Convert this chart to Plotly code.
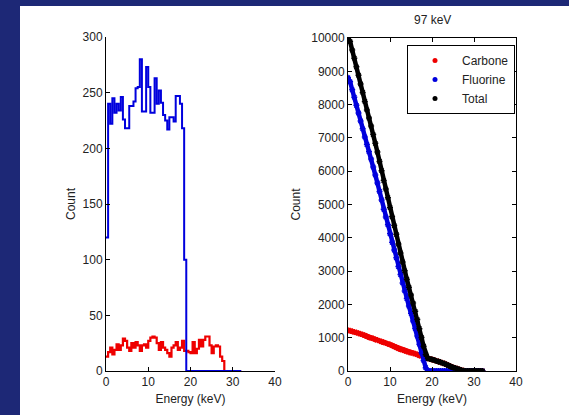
import numpy as np
import plotly.graph_objects as go

# ---- data ----
energy_keV = [0, 0.5, 1, 1.5, 2, 2.5, 3, 3.5, 4, 4.5, 5, 5.5, 6, 6.5, 7, 7.5, 8, 8.5, 9, 9.5,
              10, 10.5, 11, 11.5, 12, 12.5, 13, 13.5, 14, 14.5, 15, 15.5, 16, 16.5, 17, 17.5,
              18, 18.5, 19, 19.5, 20, 20.5, 21, 21.5, 22, 22.5, 23, 23.5, 24, 24.5, 25, 25.5,
              26, 26.5, 27, 27.5, 28, 28.5, 29, 29.5, 30, 30.5, 31, 31.5, 32]

fluorine_counts = [120, 240, 222, 245, 232, 240, 234, 246, 226, 218, 218, 238, 238, 242, 254, 255,
                   280, 233, 233, 273, 255, 232, 232, 263, 240, 252, 241, 230, 225, 217, 228, 228,
                   224, 247, 247, 240, 218, 100,
                   0, 0, 0, 0, 0, 0, 0, 0, 0, 0, 0, 0, 0, 0, 0, 0, 0, 0, 0, 0, 0, 0, 0, 0, 0, 0, 0]

carbone_counts = [13, 17, 21, 15, 19, 24, 19, 23, 29, 27, 21, 18, 25, 21, 26, 23, 18, 23, 24, 21,
                  27, 30, 31, 30, 25, 19, 26, 21, 19, 16, 13, 21, 23, 26, 19, 21,
                  27, 18, 18, 17, 16, 26, 16, 20, 28, 22, 28, 31, 31, 23, 16, 22, 23, 22, 13, 9,
                  0, 0, 0, 0, 0, 0, 0, 0, 0]

x_ticks = [0, 10, 20, 30, 40]
left_y_ticks = [0, 50, 100, 150, 200, 250, 300]
right_y_ticks = [0, 1000, 2000, 3000, 4000, 5000, 6000, 7000, 8000, 9000, 10000]
series_names = ["Carbone", "Fluorine", "Total"]
right_title = "97 keV"

# counts above each energy threshold (reverse cumulative sum of the histograms)
carb = np.array(carbone_counts)
fluo = np.array(fluorine_counts)
carb_cum = np.cumsum(carb[::-1])[::-1]
fluo_cum = np.cumsum(fluo[::-1])[::-1]
total_cum = carb_cum + fluo_cum

W, H = 569, 415
BG = "#1d2876"
FONT = "Arial, Liberation Sans, sans-serif"
TXT = "#222222"
RED, BLUE, BLACK = "#ee0000", "#0000dd", "#000000"

fig = go.Figure()

# left: histograms
fig.add_trace(go.Scatter(x=energy_keV, y=carbone_counts, mode="lines", line_shape="hv",
                         line=dict(color=RED, width=2.2), showlegend=False,
                         xaxis="x", yaxis="y"))
fig.add_trace(go.Scatter(x=energy_keV, y=fluorine_counts, mode="lines", line_shape="hv",
                         line=dict(color=BLUE, width=2), showlegend=False,
                         xaxis="x", yaxis="y"))

# right: cumulative counts (thick marker bands)
for name, vals, col in [(series_names[0], carb_cum, RED),
                        (series_names[1], fluo_cum, BLUE),
                        (series_names[2], total_cum, BLACK)]:
    fig.add_trace(go.Scatter(x=energy_keV, y=vals, mode="lines+markers", showlegend=False,
                             line=dict(color=col, width=4.5),
                             marker=dict(color=col, size=5, symbol="asterisk-open",
                                         line=dict(color=col, width=1.5)),
                             hoverinfo="skip", xaxis="x2", yaxis="y2"))
for name, col in [(series_names[0], RED), (series_names[1], BLUE), (series_names[2], BLACK)]:
    fig.add_trace(go.Scatter(x=[None], y=[None], mode="markers", name=name,
                             marker=dict(color=col, size=5, symbol="circle"),
                             xaxis="x2", yaxis="y2"))

ax_common = dict(showgrid=False, zeroline=False, showline=True, linecolor="#000000",
                 linewidth=1, ticks="inside", ticklen=4, tickcolor="#000000",
                 automargin=False,
                 tickfont=dict(family=FONT, size=12, color=TXT))

def px_x(p):
    return p / W

def px_y(p):
    return 1 - p / H

title_font = dict(family=FONT, size=12, color=TXT)

fig.update_layout(
    width=W, height=H,
    margin=dict(l=0, r=0, t=0, b=0, pad=0, autoexpand=False),
    paper_bgcolor=BG, plot_bgcolor="#ffffff",
    font=dict(family=FONT, size=12, color=TXT),
    shapes=[dict(type="rect", xref="paper", yref="paper", layer="below",
                 x0=px_x(20), x1=1.0, y0=0, y1=px_y(6),
                 fillcolor="#ffffff", line=dict(width=0))],
    xaxis=dict(ax_common, domain=[px_x(106), px_x(275)], range=[0, 40], tickvals=x_ticks,
               anchor="y", mirror=False,
               title=dict(text="Energy (keV)", standoff=6, font=title_font)),
    yaxis=dict(ax_common, domain=[px_y(371), px_y(37)], range=[0, 300], tickvals=left_y_ticks,
               anchor="x", mirror=False,
               title=dict(text="Count", standoff=4, font=title_font)),
    xaxis2=dict(ax_common, domain=[px_x(348), px_x(516)], range=[0, 40], tickvals=x_ticks,
                anchor="y2", mirror="ticks",
                title=dict(text="Energy (keV)", standoff=6, font=title_font)),
    yaxis2=dict(ax_common, domain=[px_y(371), px_y(38)], range=[0, 10000], tickvals=right_y_ticks,
                tickformat="d", anchor="x2", mirror="ticks",
                title=dict(text="Count", standoff=8, font=title_font)),
    legend=dict(x=px_x(407), y=px_y(45), xanchor="left", yanchor="top",
                bgcolor="#ffffff", bordercolor="#000000", borderwidth=1,
                font=dict(family=FONT, size=12, color=TXT), itemwidth=44,
                tracegroupgap=0),
    annotations=[dict(text=right_title, xref="paper", yref="paper",
                      x=(px_x(348) + px_x(516)) / 2, y=px_y(20), showarrow=False,
                      xanchor="center", yanchor="middle",
                      font=dict(family=FONT, size=12, color=TXT))],
)

fig.write_html("out.html")
